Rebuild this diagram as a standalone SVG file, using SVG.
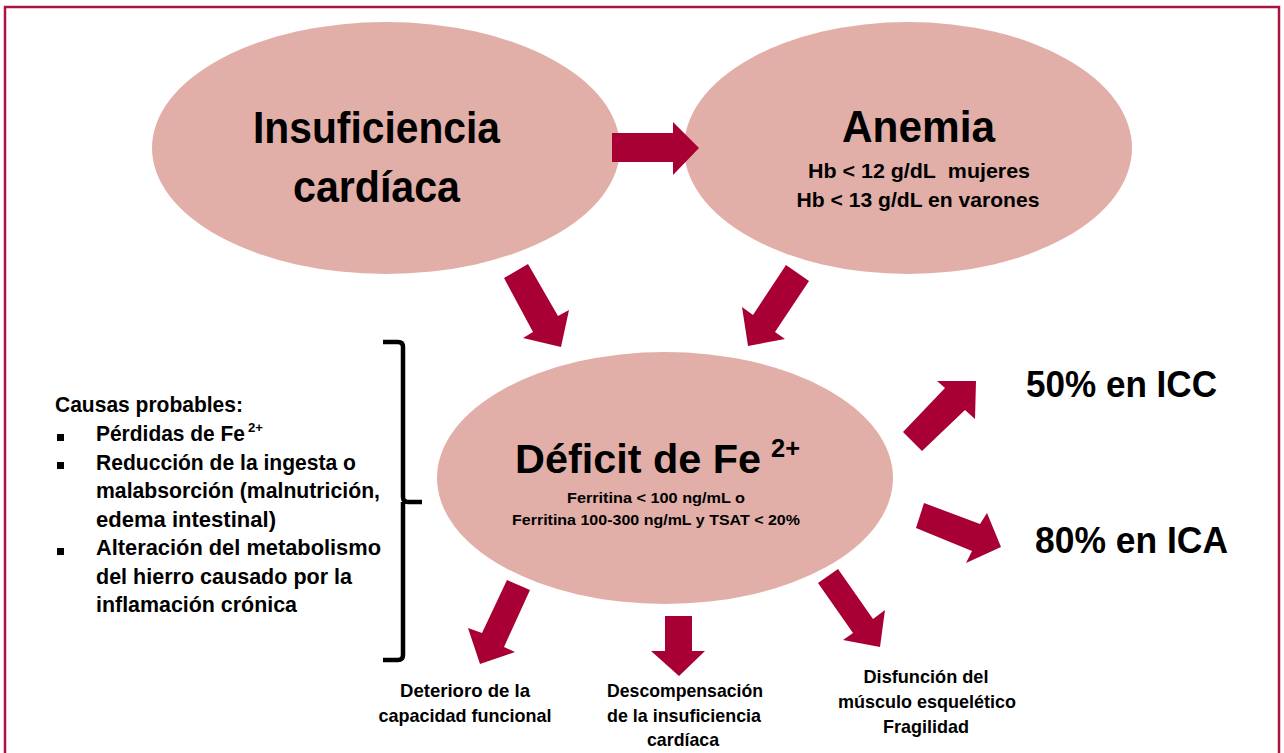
<svg xmlns="http://www.w3.org/2000/svg" width="1284" height="753" viewBox="0 0 1284 753">
<style>
.t{font-family:"Liberation Sans",Arial,sans-serif;font-weight:bold;fill:#000}
.m{text-anchor:middle}
.el{fill:#E2AEA8}
.ar{fill:#A80034}
.b{font-size:21.5px}
.s{font-size:18.5px}
</style>
<rect x="5" y="7" width="1274" height="760" fill="#fff" stroke="#B0123F" stroke-width="2.5"/>
<g id="insuficiencia">
<ellipse class="el" cx="386" cy="148" rx="234" ry="126"/>
<text class="t m" x="376.5" y="143" font-size="44" textLength="247" lengthAdjust="spacingAndGlyphs">Insuficiencia</text>
<text class="t m" x="376.5" y="202" font-size="44" textLength="167" lengthAdjust="spacingAndGlyphs">cardíaca</text>
</g>
<g id="anemia">
<ellipse class="el" cx="908" cy="148" rx="224" ry="126"/>
<text class="t m" x="918.5" y="142" font-size="44" textLength="153" lengthAdjust="spacingAndGlyphs">Anemia</text>
<text class="t m" x="919" y="178" font-size="20.5" textLength="222" lengthAdjust="spacingAndGlyphs">Hb &lt; 12 g/dL&#160; mujeres</text>
<text class="t m" x="918" y="207" font-size="20.5" textLength="243" lengthAdjust="spacingAndGlyphs">Hb &lt; 13 g/dL en varones</text>
</g>
<g id="deficit">
<ellipse class="el" cx="665" cy="478" rx="228" ry="126"/>
<text class="t" x="515" y="473" font-size="41.5" textLength="246" lengthAdjust="spacingAndGlyphs">Déficit de Fe</text>
<text class="t" x="771" y="457" font-size="26" textLength="29" lengthAdjust="spacingAndGlyphs">2+</text>
<text class="t m" x="656" y="503" font-size="15" textLength="178" lengthAdjust="spacingAndGlyphs">Ferritina &lt; 100 ng/mL o</text>
<text class="t m" x="656" y="525" font-size="15" textLength="288" lengthAdjust="spacingAndGlyphs">Ferritina 100-300 ng/mL y TSAT &lt; 20%</text>
</g>
<g id="icc">
<text class="t" x="1026" y="397" font-size="37" textLength="191" lengthAdjust="spacingAndGlyphs">50% en ICC</text>
</g>
<g id="ica">
<text class="t" x="1035" y="553" font-size="37" textLength="193" lengthAdjust="spacingAndGlyphs">80% en ICA</text>
</g>
<g id="causas">
<text class="t b" x="55" y="412" textLength="188" lengthAdjust="spacingAndGlyphs">Causas probables:</text>
<rect x="57" y="434" width="7" height="7" fill="#000"/>
<rect x="57" y="462" width="7" height="7" fill="#000"/>
<rect x="57" y="548" width="7" height="7" fill="#000"/>
<text class="t b" x="96" y="441" textLength="149" lengthAdjust="spacingAndGlyphs">Pérdidas de Fe</text>
<text class="t" x="248" y="432" font-size="12.5" textLength="15" lengthAdjust="spacingAndGlyphs">2+</text>
<text class="t b" x="96" y="470" textLength="260" lengthAdjust="spacingAndGlyphs">Reducción de la ingesta o</text>
<text class="t b" x="96" y="498" textLength="284" lengthAdjust="spacingAndGlyphs">malabsorción (malnutrición,</text>
<text class="t b" x="96" y="527" textLength="180" lengthAdjust="spacingAndGlyphs">edema intestinal)</text>
<text class="t b" x="96" y="555" textLength="285" lengthAdjust="spacingAndGlyphs">Alteración del metabolismo</text>
<text class="t b" x="96" y="584" textLength="256" lengthAdjust="spacingAndGlyphs">del hierro causado por la</text>
<text class="t b" x="96" y="612" textLength="201" lengthAdjust="spacingAndGlyphs">inflamación crónica</text>
</g>
<g id="deterioro">
<text class="t m s" x="465" y="697" textLength="130" lengthAdjust="spacingAndGlyphs">Deterioro de la</text>
<text class="t m s" x="465" y="722" textLength="173" lengthAdjust="spacingAndGlyphs">capacidad funcional</text>
</g>
<g id="descompensacion">
<text class="t m s" x="685" y="697" textLength="156" lengthAdjust="spacingAndGlyphs">Descompensación</text>
<text class="t m s" x="684" y="722" textLength="154" lengthAdjust="spacingAndGlyphs">de la insuficiencia</text>
<text class="t m s" x="683" y="746" textLength="72" lengthAdjust="spacingAndGlyphs">cardíaca</text>
</g>
<g id="disfuncion">
<text class="t m s" x="926" y="683" textLength="125" lengthAdjust="spacingAndGlyphs">Disfunción del</text>
<text class="t m s" x="927" y="708" textLength="178" lengthAdjust="spacingAndGlyphs">músculo esquelético</text>
<text class="t m s" x="926" y="733" textLength="86" lengthAdjust="spacingAndGlyphs">Fragilidad</text>
</g>
<g id="connectors">
<polygon class="ar" points="612,133 673,133 673,122 699,148 673,175 673,162 612,162"/>
<polygon class="ar" points="528,264 558,316 569,310 561,347 523,338 533,332 504,278"/>
<polygon class="ar" points="786,265 809,281 775,332 785,339 748,346 742,307 753,315"/>
<polygon class="ar" points="903,432 945,388 937,381 976,381 975,419 965,410 922,451"/>
<polygon class="ar" points="924,503 980,524 987,513 1001,547 966,563 972,551 916,528"/>
<polygon class="ar" points="507,580 530,590 504,647 515,652 480,664 468,628 482,633"/>
<polygon class="ar" points="665,616 692,616 692,651 705,651 679,676 651,651 665,651"/>
<polygon class="ar" points="818,583 838,569 873,619 885,610 880,647 843,640 853,633"/>
<path d="M383,342 L398,342 Q403,342 403,347 L403,497 Q403,502 408,502 L422,502 M403,502 L403,655 Q403,660 398,660 L383,660" fill="none" stroke="#000" stroke-width="4.5"/>
</g>
</svg>
